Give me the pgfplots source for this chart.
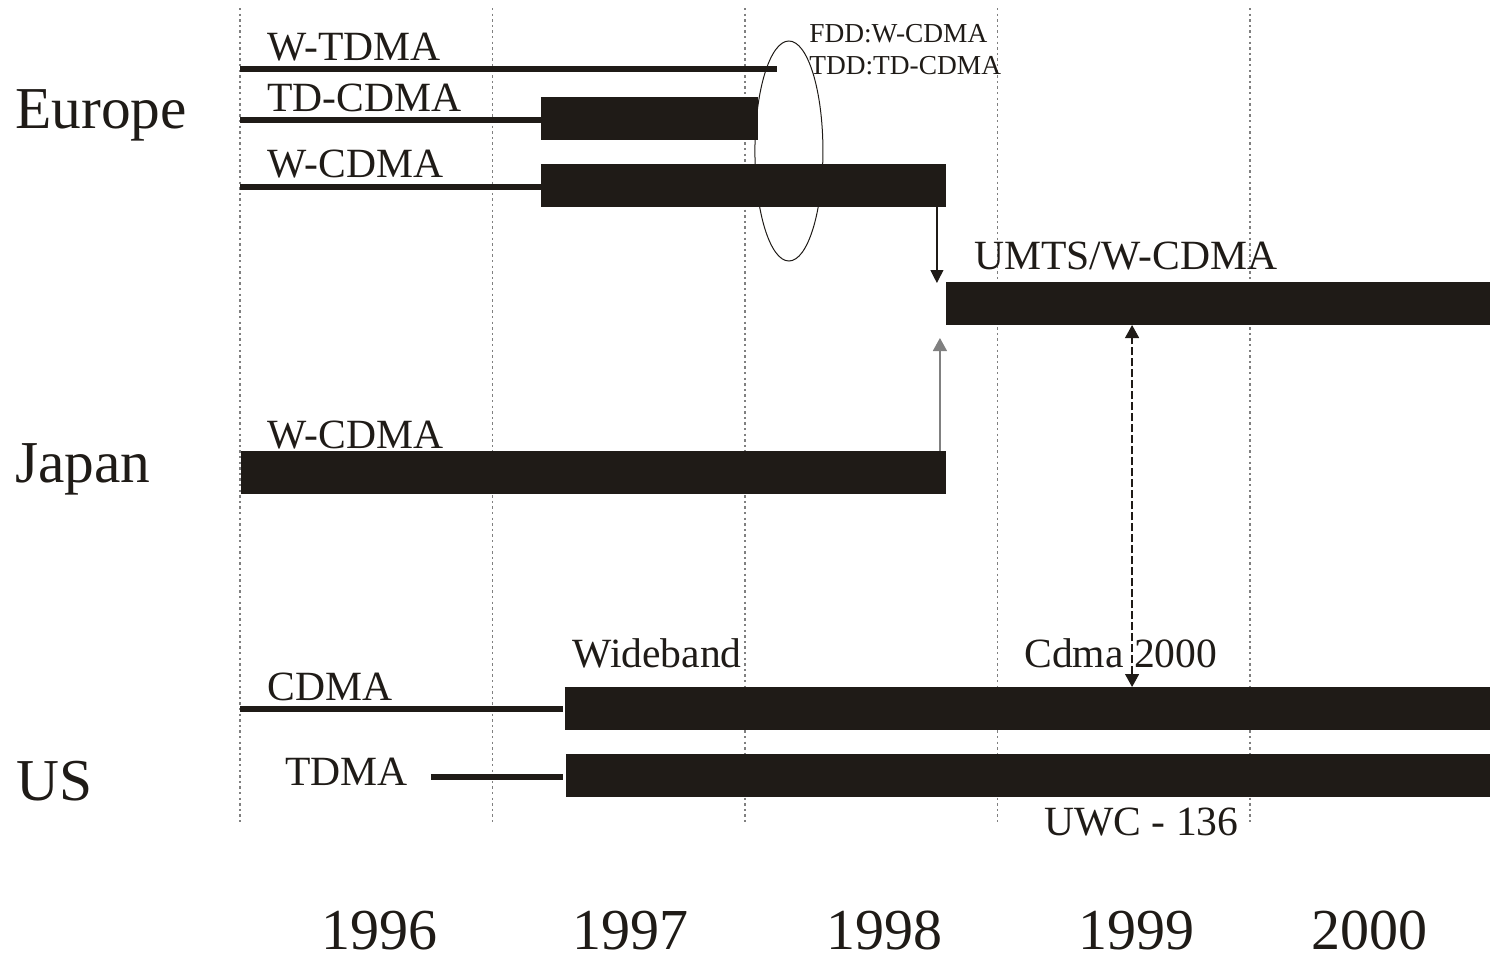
\documentclass[border=0pt]{standalone}
\usepackage{pgfplots}
\pgfplotsset{compat=1.18}
\usepackage{fontspec}
\setmainfont{Liberation Serif}
\usetikzlibrary{arrows.meta}
\definecolor{ink}{RGB}{31,27,23}
\tikzset{
  bar/.style={ink, line width=21.5pt, line cap=butt},
  thk/.style={ink, line width=3pt, line cap=butt},
  vgrid/.style={gray, line width=0.6pt, dash pattern=on 1.2pt off 1.6pt},
  lab/.style={anchor=base west, text=ink, font=\fontsize{20.8}{24}\selectfont, inner sep=0pt},
  big/.style={anchor=base west, text=ink, font=\fontsize{29.7}{34}\selectfont, inner sep=0pt},
  yr/.style={anchor=base, text=ink, font=\fontsize{29}{32}\selectfont, inner sep=0pt},
}
\begin{document}
\begin{tikzpicture}
\begin{axis}[
  scale only axis, width=745pt, height=479.5pt,
  xmin=1995.0495, xmax=2000.9505, ymin=0, ymax=959,
  y dir=reverse, hide axis, clip=false, no markers,
]
% year grid lines
\addplot[vgrid] coordinates {(1996,8) (1996,823)};
\addplot[vgrid] coordinates {(1997,8) (1997,823)};
\addplot[vgrid] coordinates {(1998,8) (1998,823)};
\addplot[vgrid] coordinates {(1999,8) (1999,823)};
\addplot[vgrid] coordinates {(2000,8) (2000,823)};
% Europe
\addplot[thk] coordinates {(1996.000,69) (1998.127,69)};
\addplot[thk] coordinates {(1996.000,120) (1997.192,120)};
\addplot[bar] coordinates {(1997.192,118) (1998.051,118)};
\addplot[thk] coordinates {(1996.000,186.5) (1997.192,186.5)};
\addplot[bar] coordinates {(1997.192,185.5) (1998.796,185.5)};
% UMTS
\addplot[bar] coordinates {(1998.796,303.5) (2000.950,303.5)};
% Japan
\addplot[bar] coordinates {(1996.004,472.5) (1998.796,472.5)};
% US
\addplot[thk] coordinates {(1996.000,709) (1997.279,709)};
\addplot[bar] coordinates {(1997.287,708.5) (2000.950,708.5)};
\addplot[thk] coordinates {(1996.756,777) (1997.279,777)};
\addplot[bar] coordinates {(1997.291,775.5) (2000.950,775.5)};
% arrows
\addplot[ink, line width=0.6pt, -{Triangle[length=6.5pt,width=6.5pt]}] coordinates {(1998.760,207) (1998.760,283)};
\addplot[gray, line width=0.7pt, -{Triangle[length=6.5pt,width=7pt]}] coordinates {(1998.772,451) (1998.772,338)};
\addplot[ink, line width=0.6pt, dash pattern=on 4pt off 1.5pt, {Triangle[length=6.5pt,width=7pt]}-{Triangle[length=6.5pt,width=7pt]}] coordinates {(1999.533,687) (1999.533,325)};
% ellipse
\draw[ink, line width=0.5pt] (axis cs:1998.174,151) ellipse [x radius=17pt, y radius=55pt];
% labels
\node[lab] at (axis cs:1996.107,60) {W-TDMA};
\node[lab] at (axis cs:1996.107,111) {TD-CDMA};
\node[lab] at (axis cs:1996.107,177) {W-CDMA};
\node[lab] at (axis cs:1998.907,269) {UMTS/W-CDMA};
\node[lab] at (axis cs:1996.107,448) {W-CDMA};
\node[lab] at (axis cs:1997.315,667) {Wideband};
\node[lab] at (axis cs:1999.105,667) {Cdma 2000};
\node[lab] at (axis cs:1996.107,700) {CDMA};
\node[lab] at (axis cs:1996.178,785) {TDMA};
\node[lab] at (axis cs:1999.184,835) {UWC - 136};
\node[anchor=base west, text=ink, font=\fontsize{13.7}{16}\selectfont, inner sep=0pt] at (axis cs:1998.253,42) {FDD:W-CDMA};
\node[anchor=base west, text=ink, font=\fontsize{13.7}{16}\selectfont, inner sep=0pt] at (axis cs:1998.253,74) {TDD:TD-CDMA};
\node[big] at (axis cs:1995.109,128) {Europe};
\node[big] at (axis cs:1995.109,482) {Japan};
\node[big] at (axis cs:1995.113,800) {US};
\node[yr] at (axis cs:1996.554,949) {1996};
\node[yr] at (axis cs:1997.545,949) {1997};
\node[yr] at (axis cs:1998.554,949) {1998};
\node[yr] at (axis cs:1999.552,949) {1999};
\node[yr] at (axis cs:2000.475,949) {2000};
\end{axis}
\pgfresetboundingbox
\path (current axis.south west) rectangle (current axis.north east);
\end{tikzpicture}
\end{document}
